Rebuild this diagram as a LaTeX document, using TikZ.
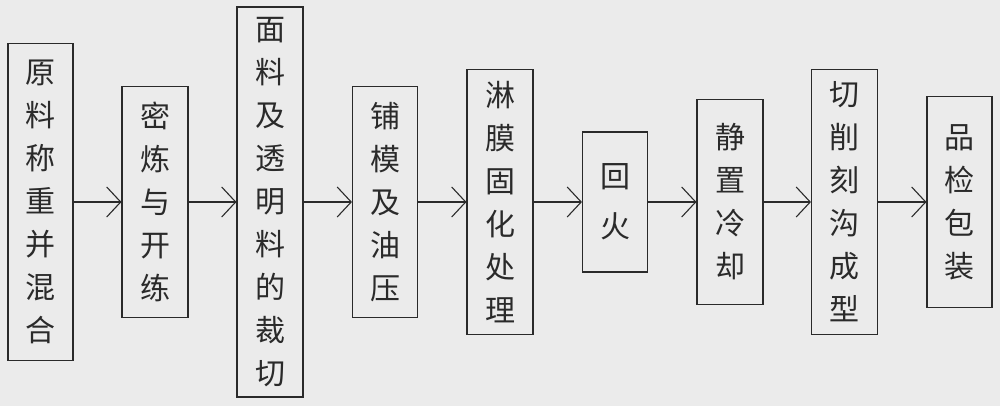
\documentclass[tikz,border=0pt]{standalone}
\usepackage{fontspec}
\newfontfamily\cjk{Noto Sans CJK SC}
\usetikzlibrary{arrows.meta}
\definecolor{bg}{HTML}{EBEBEB}
\definecolor{ink}{HTML}{2A2A2A}
\begin{document}
\begin{tikzpicture}[x=1pt,y=-1pt,
  stepbox/.style={draw=ink, line width=1.1pt, rectangle, inner sep=0pt, align=center, text=ink,
    font=\cjk\fontsize{30}{43}\selectfont},
  flow/.style={draw=ink, line width=1.1pt, -{Straight Barb[length=14pt,width=30pt,line width=1.1pt]}}]
\fill[bg] (0,0) rectangle (1000,406);
\useasboundingbox (0,0) rectangle (1000,406);
\node[stepbox, minimum width=65pt, minimum height=317pt] (b1) at (40.5,202) {原\\料\\称\\重\\并\\混\\合};
\node[stepbox, minimum width=66pt, minimum height=231pt] (b2) at (155,202) {密\\炼\\与\\开\\练};
\node[stepbox, minimum width=66pt, minimum height=390pt] (b3) at (270,202) {面\\料\\及\\透\\明\\料\\的\\裁\\切};
\node[stepbox, minimum width=65pt, minimum height=231pt] (b4) at (385,202) {铺\\模\\及\\油\\压};
\node[stepbox, minimum width=66pt, minimum height=265pt] (b5) at (500,202) {淋\\膜\\固\\化\\处\\理};
\node[stepbox, minimum width=65pt, minimum height=140pt, font=\cjk\fontsize{30}{50}\selectfont] (b6) at (615,202) {回\\火};
\node[stepbox, minimum width=66pt, minimum height=205pt] (b7) at (730,202) {静\\置\\冷\\却};
\node[stepbox, minimum width=66pt, minimum height=265pt] (b8) at (844.5,202) {切\\削\\刻\\沟\\成\\型};
\node[stepbox, minimum width=65pt, minimum height=211pt] (b9) at (959.5,202) {品\\检\\包\\装};
\draw[flow] (b1.east) -- (b2.west);
\draw[flow] (b2.east) -- (b3.west);
\draw[flow] (b3.east) -- (b4.west);
\draw[flow] (b4.east) -- (b5.west);
\draw[flow] (b5.east) -- (b6.west);
\draw[flow] (b6.east) -- (b7.west);
\draw[flow] (b7.east) -- (b8.west);
\draw[flow] (b8.east) -- (b9.west);
\end{tikzpicture}
\end{document}
